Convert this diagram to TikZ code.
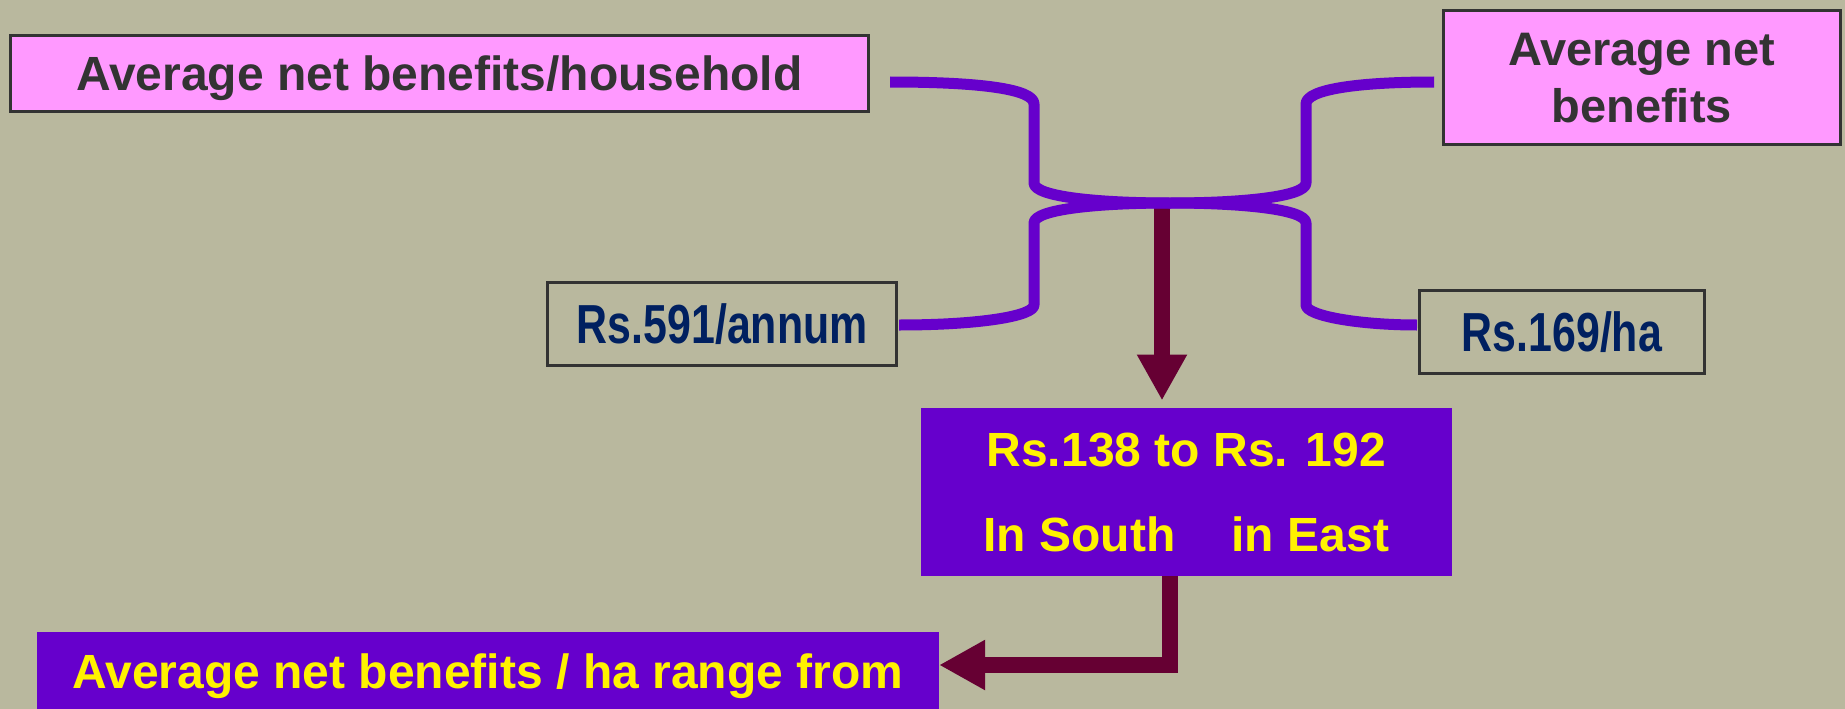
\documentclass[tikz,border=0pt]{standalone}
\usepackage{fontspec}
\setmainfont{Liberation Sans}
\newfontfamily\narrowfont{Liberation Sans}[FakeStretch=0.78]
\usetikzlibrary{arrows.meta}
\definecolor{bgc}{RGB}{185,184,158}
\definecolor{pinkc}{RGB}{255,153,255}
\definecolor{purpc}{RGB}{102,0,204}
\definecolor{darkr}{RGB}{102,0,51}
\definecolor{navyc}{RGB}{0,32,96}
\definecolor{grayt}{RGB}{51,51,51}
\tikzset{
  pinkbox/.style={draw=grayt, line width=3pt, fill=pinkc, text=grayt, inner sep=0pt,
    font=\bfseries\fontsize{48}{56}\selectfont, align=center},
  valbox/.style={draw=grayt, line width=2.5pt, text=navyc, inner sep=0pt,
    font=\narrowfont\bfseries\fontsize{55}{62}\selectfont},
  purpbox/.style={fill=purpc, text=yellow, inner sep=0pt,
    font=\bfseries\fontsize{48}{56}\selectfont, align=center},
  brace/.style={draw=purpc, line width=11pt, line cap=butt, line join=round},
  darrow/.style={draw=darkr, line width=15.5pt, line join=miter,
    -{Triangle[length=46pt,width=47pt]}}
}
\begin{document}
\begin{tikzpicture}[x=1pt,y=-1pt]
\useasboundingbox (0,0) rectangle (1845,709);
\fill[bgc] (0,0) rectangle (1845,709);

% boxes
\node[pinkbox, minimum width=858pt, minimum height=76pt, text height=34.4pt, text depth=0pt]
  (b1) at (439.5,73.5) {Average net benefits/household};
\node[pinkbox, minimum width=397pt, minimum height=134pt, text height=90pt, text depth=0pt,
  font=\bfseries\fontsize{47}{56.7}\selectfont]
  (b2) at (1641.7,77.3) {Average net\\benefits};
\node[valbox, minimum width=349pt, minimum height=83pt, text height=39.4pt, text depth=0pt]
  (b3) at (722.2,323.8) {Rs.591/annum};
\node[valbox, minimum width=285pt, minimum height=83pt, text height=39.4pt, text depth=0pt]
  (b4) at (1561.9,332.2) {Rs.169/ha};
\node[purpbox, minimum width=531pt, minimum height=168pt, text height=120.3pt, text depth=0pt,
  font=\bfseries\fontsize{48}{85}\selectfont]
  (b5) at (1186.3,491.7) {Rs.138 to Rs. 192\\In South\hspace{56pt}in East};
\node[purpbox, minimum width=902pt, minimum height=80pt, text height=34.4pt, text depth=0pt]
  (b6) at (487.9,671.7) {Average net benefits / ha range from};

% hub and brace ends
\coordinate (hub) at (1170,203);
\coordinate (tl) at (890,82);
\coordinate (tr) at (1434,82);
\coordinate (bl) at (899,325);
\coordinate (br) at (1417,325);
\coordinate (hubA) at (1162,203);

% arrows
\draw[darrow] (hubA) -- ([xshift=-24.3pt,yshift=7pt]b5.north);
\draw[darrow] ([xshift=-16.3pt]b5.south) |- ([yshift=6.7pt]b6.east);

% braces
\draw[brace] (tl) .. controls (980,82) and (1034,89) .. (1034,104) -- (1034,183)
  .. controls (1034,197) and (1100,203) .. (hub);
\draw[brace] (tr) .. controls (1360,82) and (1306,89) .. (1306,104) -- (1306,183)
  .. controls (1306,197) and (1240,203) .. (hub);
\draw[brace] (hub) .. controls (1100,203) and (1034,209) .. (1034,223) -- (1034,305)
  .. controls (1034,316) and (980,325) .. (bl);
\draw[brace] (hub) .. controls (1240,203) and (1306,209) .. (1306,223) -- (1306,305)
  .. controls (1306,316) and (1360,325) .. (br);
\end{tikzpicture}
\end{document}
